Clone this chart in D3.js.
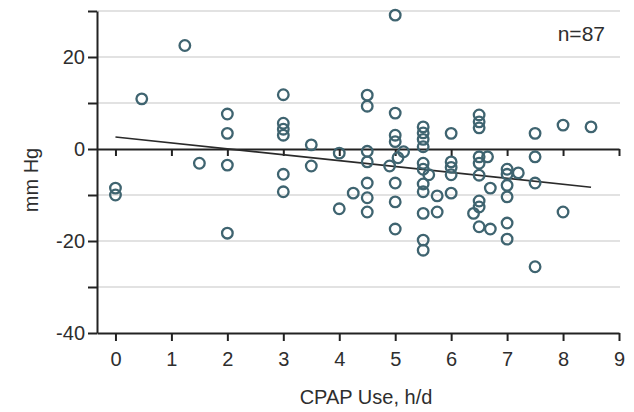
<!DOCTYPE html>
<html><head><meta charset="utf-8">
<script src="https://cdn.jsdelivr.net/npm/d3@7"></script>
<style>
body{margin:0;background:#fff}
text{font-family:"Liberation Sans",Arial,sans-serif;fill:#2e2e2e}
</style>
</head><body>
<svg id="c" width="634" height="412"></svg>
<script>
// CPAP use (h/d) and BP change (mm Hg), one entry per participant
const cpapUse = [
  0, 0,
  0.47,
  1.24,
  1.5,
  2, 2, 2, 2,
  3, 3, 3, 3, 3, 3,
  3.5, 3.5,
  4, 4,
  4.25,
  4.5, 4.5, 4.5, 4.5, 4.5, 4.5, 4.5,
  5, 5, 5, 5, 5.15, 5.05, 4.9, 5, 5, 5,
  5.5, 5.5, 5.5, 5.5, 5.5, 5.5, 5.6, 5.5, 5.5, 5.5, 5.5, 5.5,
  5.75, 5.75,
  6, 6, 6, 6, 6,
  6.5, 6.5, 6.5, 6.5, 6.65, 6.5, 6.5, 6.7, 6.5, 6.5, 6.4, 6.5, 6.7,
  7, 7, 7.2, 7, 7, 7, 7,
  7.5, 7.5, 7.5, 7.5,
  8, 8,
  8.5
];
const bpChange = [
  -8.5, -10,
  10.9,
  22.5,
  -3.1,
  7.6, 3.4, -3.5, -18.3,
  11.8, 5.6, 4.3, 3.0, -5.5, -9.3,
  0.9, -3.7,
  -0.9, -13,
  -9.6,
  11.7, 9.3, -0.5, -2.8, -7.4, -10.6, -13.7,
  29.1, 7.8, 3.0, 1.6, -0.6, -1.9, -3.7, -7.4, -11.5, -17.4,
  4.8, 3.5, 2.1, 0.5, -3.1, -4.4, -5.6, -7.6, -9.3, -14, -19.8, -22,
  -10.2, -13.7,
  3.4, -2.8, -4.0, -5.6, -9.6,
  7.4, 5.9, 4.6, -1.7, -1.7, -3.1, -5.7, -8.5, -11.3, -12.6, -14, -16.9, -17.4,
  -4.4, -5.5, -5.2, -7.9, -10.4, -16.1, -19.6,
  3.4, -1.7, -7.4, -25.6,
  5.2, -13.7,
  4.8
];
// regression line end points
const fitX = [0, 8.5];
const fitY = [2.6, -8.3];

const xTicks = [0,1,2,3,4,5,6,7,8,9];
const yTicks = [-40,-30,-20,-10,0,10,20,30];
const yLabels = [-40,-20,0,20];
const gridValues = [-30,-20,-10,10,20,30];
const nLabel = "n=87";
const xTitle = "CPAP Use, h/d";
const yTitle = "mm Hg";

const svg = d3.select("#c");
const x = d3.scaleLinear().domain([-0.33, 9]).range([97, 619]);
const y = d3.scaleLinear().domain([-40, 30]).range([333, 11]);

// gridlines
svg.append("g").selectAll("line").data(gridValues).join("line")
  .attr("x1", x(-0.33)).attr("x2", x(9) + 1)
  .attr("y1", d => y(d)).attr("y2", d => y(d))
  .attr("stroke", "#e2e2e2").attr("stroke-width", 2);

function styleAxis(g){
  g.select(".domain").attr("stroke", "#222").attr("stroke-width", 2);
  g.selectAll(".tick line").attr("stroke", "#222").attr("stroke-width", 2);
  g.selectAll(".tick text").attr("font-size", 20).attr("fill", "#2e2e2e")
    .attr("font-family", '"Liberation Sans",Arial,sans-serif');
}

// zero reference line with ticks
svg.append("g").attr("transform", `translate(0,${y(0)})`)
  .call(d3.axisBottom(x).tickValues(xTicks).tickFormat("").tickSize(7).tickSizeOuter(0))
  .call(styleAxis);

// bottom axis
svg.append("g").attr("transform", `translate(0,${y(-40)})`)
  .call(d3.axisBottom(x).tickValues(xTicks).tickFormat(d3.format("d")).tickSize(8).tickPadding(11).tickSizeOuter(0))
  .call(styleAxis);

// left axis
svg.append("g").attr("transform", `translate(${x(-0.33)},0)`)
  .call(d3.axisLeft(y).tickValues(yTicks)
    .tickFormat(d => yLabels.includes(d) ? String(d) : "")
    .tickSize(9).tickPadding(3).tickSizeOuter(0))
  .call(styleAxis);

// regression line
svg.append("line")
  .attr("x1", x(fitX[0])).attr("y1", y(fitY[0]))
  .attr("x2", x(fitX[1])).attr("y2", y(fitY[1]))
  .attr("stroke", "#2a2a2a").attr("stroke-width", 1.6);

// points
svg.append("g").selectAll("circle").data(d3.range(cpapUse.length)).join("circle")
  .attr("cx", i => x(cpapUse[i])).attr("cy", i => y(bpChange[i]))
  .attr("r", 5.3).attr("fill", "none")
  .attr("stroke", "#3f6470").attr("stroke-width", 2.3);

// texts
svg.append("text").attr("x", 605).attr("y", 41).attr("text-anchor", "end")
  .attr("font-size", 21).text(nLabel);
svg.append("text").attr("x", 366).attr("y", 404).attr("text-anchor", "middle")
  .attr("font-size", 20).text(xTitle);
svg.append("text").attr("transform", "translate(38,180) rotate(-90)")
  .attr("text-anchor", "middle").attr("font-size", 20).text(yTitle);
</script>
</body></html>
